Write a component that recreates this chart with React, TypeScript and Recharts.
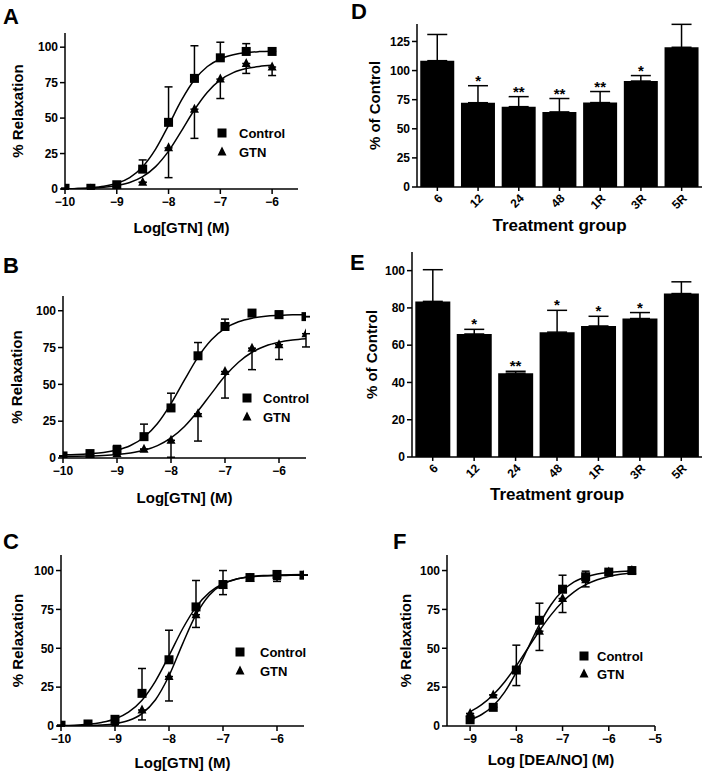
import React from 'react';
import {
  ComposedChart,
  Line,
  Scatter,
  Bar,
  XAxis,
  YAxis,
  ErrorBar,
  LabelList,
} from 'recharts';

const FONT = '"Liberation Sans", Arial, Helvetica, sans-serif';

// ---------- Panel A : GTN responses ----------
const aDose = [-10, -9.5, -9, -8.5, -8, -7.5, -7, -6.5, -6];
const aControl = [0.5, 0.5, 3, 14, 47, 78, 92.5, 97, 97];
const aControlSem = [0, 0, 0, 6.5, 25, 23, 11, 5.5, 0];
const aGtn = [0, 0, 1, 4.7, 29, 56.3, 77.5, 88.5, 86];
const aGtnSem = [0, 0, 0, 0, 21, 20.6, 13.7, 7, 6];
const aFitX = [-10, -9.75, -9.5, -9.25, -9, -8.75, -8.5, -8.25, -8, -7.75, -7.5, -7.25, -7, -6.75, -6.5, -6.25, -6];
const aControlFit = [0.2, 0.4, 0.9, 1.9, 4.0, 8.1, 15.7, 28.1, 44.9, 62.6, 77.0, 86.4, 91.7, 94.6, 96.2, 96.9, 97.2];
const aGtnFit = [0.15, 0.3, 0.6, 1.2, 2.4, 4.6, 8.7, 15.8, 26.7, 41.0, 55.9, 68.3, 76.9, 82.1, 84.9, 86.4, 87.2];

// ---------- Panel B ----------
const bDose = [-10, -9.5, -9, -8.5, -8, -7.5, -7, -6.5, -6, -5.5];
const bControl = [1.4, 3, 5.5, 14.5, 34, 69.4, 89.3, 98.4, 97.3, 96];
const bControlSem = [0, 0, 3, 8.5, 10, 9, 5, 0, 2.5, 0];
const bGtn = [1, 2, 3, 6, 12, 30, 58.7, 74.6, 76.9, 84.4];
const bGtnSem = [0, 0, 0, 0, 11.5, 18.5, 18, 14.6, 10, 9];
const bcFitX = [-10, -9.75, -9.5, -9.25, -9, -8.75, -8.5, -8.25, -8, -7.75, -7.5, -7.25, -7, -6.75, -6.5, -6.25, -6, -5.75, -5.5];
const bControlFit = [2.2, 2.4, 2.9, 3.7, 5.4, 8.5, 14.1, 23.4, 36.9, 53.0, 68.5, 80.3, 88.0, 92.5, 94.9, 96.2, 96.8, 97.2, 97.3];
const bGtnFit = [1.1, 1.2, 1.4, 1.7, 2.3, 3.4, 5.2, 8.4, 13.6, 21.4, 31.9, 43.9, 55.6, 65.0, 71.8, 76.1, 78.6, 80.1, 81.0];

// ---------- Panel C ----------
const cDose = [-10, -9.5, -9, -8.5, -8, -7.5, -7, -6.5, -6, -5.5];
const cControl = [0.5, 1.3, 4.3, 21, 42.6, 76.6, 91, 95.5, 97.5, 97];
const cControlSem = [0, 0, 0, 16, 19, 17, 9, 0, 1.5, 0];
const cGtn = [0, 0.5, 1, 10.3, 31.8, 71.6, 90.5, 95, 96, 97];
const cGtnSem = [0, 0, 0, 6.4, 15.7, 8.2, 6, 0, 3, 0];
const cControlFit = [0.3, 0.5, 1.1, 2.3, 4.5, 8.9, 16.6, 28.9, 45.2, 62.4, 76.5, 86.0, 91.5, 94.5, 96.0, 96.8, 97.1, 97.3, 97.4];
const cGtnFit = [0.05, 0.1, 0.3, 0.6, 1.5, 3.5, 8.0, 16.9, 32.3, 52.7, 71.6, 84.3, 91.3, 94.5, 95.9, 96.5, 96.8, 96.9, 97.0];

// ---------- Panel F : DEA/NO ----------
const fDose = [-9, -8.5, -8, -7.5, -7, -6.5, -6, -5.5];
const fControl = [4, 12, 36, 68, 88, 96, 99, 100];
const fControlSem = [0, 0, 16, 11, 9, 3.6, 1, 0];
const fGtn = [8, 20, 37, 61, 82, 94, 99, 100];
const fGtnSem = [0, 0, 11, 12.4, 9, 4.5, 0, 0];
const fFitX = [-9, -8.75, -8.5, -8.25, -8, -7.75, -7.5, -7.25, -7, -6.75, -6.5, -6.25, -6, -5.75, -5.5];
const fControlFit = [4.0, 7.4, 13.0, 22.0, 34.7, 50.0, 65.3, 78.0, 87.0, 92.7, 95.9, 97.8, 98.8, 99.4, 99.7];
const fGtnFit = [9.1, 13.7, 20.1, 28.5, 38.7, 50.0, 61.3, 71.5, 79.9, 86.3, 90.9, 94.1, 96.2, 97.6, 98.4];

// ---------- Panels D & E : bar charts ----------
const groups = ['6', '12', '24', '48', '1R', '3R', '5R'];
const dMean = [108.5, 72.4, 69, 64.5, 72.5, 91, 120];
const dSem = [22.5, 14.6, 8.6, 11.5, 9.5, 4.7, 19.7];
const dSig = ['', '*', '**', '**', '**', '*', ''];
const eMean = [83.5, 66, 45, 67, 70.3, 74.3, 87.7];
const eSem = [17, 2.5, 1, 11.7, 5.2, 3.2, 6.3];
const eSig = ['', '*', '**', '*', '*', '*', ''];

const toPoints = (xs: number[], ys: number[], sem: number[], up: boolean) =>
  xs.map((x, i) => ({ x, y: ys[i], err: up ? [0, sem[i]] : [sem[i], 0] }));
const toCurve = (xs: number[], ys: number[]) => xs.map((x, i) => ({ x, y: ys[i] }));
const minus = (v: number) => (v < 0 ? `\u2212${Math.abs(v)}` : `${v}`);

const tickStyle = { fill: '#000', fontSize: 12, fontWeight: 700, fontFamily: FONT };
const titleStyle = { fill: '#000', fontSize: 15, fontWeight: 700, fontFamily: FONT };

const SquareDot = (props: any) => {
  const { cx, cy } = props;
  return <rect x={cx - 4.5} y={cy - 4.5} width={9} height={9} fill="#000" />;
};
const TriangleDot = (props: any) => {
  const { cx, cy } = props;
  return <polygon points={`${cx},${cy - 5.5} ${cx + 4.5},${cy + 3.5} ${cx - 4.5},${cy + 3.5}`} fill="#000" />;
};

interface Rect { left: number; top: number; right: number; bottom: number }

const YW = 60;
const MT = 10;
const MR = 7;
const XH = 50;

interface CurvePanelProps {
  plot: Rect;
  xDomain: [number, number];
  xTicks: number[];
  xLabel: string;
  xLabelOffset: number;
  yLabelOffset: number;
  control: any[];
  gtn: any[];
  controlFit: any[];
  gtnFit: any[];
}

const CurvePanel: React.FC<CurvePanelProps> = ({
  plot, xDomain, xTicks, xLabel, xLabelOffset, yLabelOffset, control, gtn, controlFit, gtnFit,
}) => {
  const width = plot.right - plot.left + YW + MR;
  const height = plot.bottom - plot.top + MT + XH;
  return (
    <div style={{ position: 'absolute', left: plot.left - YW, top: plot.top - MT }}>
      <ComposedChart width={width} height={height} margin={{ top: MT, right: MR, left: 0, bottom: 0 }}>
        <XAxis
          type="number"
          dataKey="x"
          domain={xDomain}
          ticks={xTicks}
          allowDataOverflow
          height={XH}
          tickFormatter={minus}
          tick={tickStyle}
          tickSize={5}
          tickMargin={3}
          axisLine={{ stroke: '#000', strokeWidth: 1.5 }}
          tickLine={{ stroke: '#000', strokeWidth: 1.5 }}
          label={{ value: xLabel, position: 'insideBottom', offset: xLabelOffset, style: titleStyle }}
        />
        <YAxis
          type="number"
          dataKey="y"
          domain={[0, 110]}
          ticks={[0, 25, 50, 75, 100]}
          allowDataOverflow
          width={YW}
          tick={tickStyle}
          tickSize={5}
          tickMargin={2}
          axisLine={{ stroke: '#000', strokeWidth: 1.5 }}
          tickLine={{ stroke: '#000', strokeWidth: 1.5 }}
          label={{
            value: '% Relaxation',
            angle: -90,
            position: 'insideLeft',
            offset: yLabelOffset,
            style: { ...titleStyle, textAnchor: 'middle' },
          }}
        />
        <Line data={controlFit} dataKey="y" type="monotone" stroke="#000" strokeWidth={1.5} dot={false} activeDot={false} isAnimationActive={false} />
        <Line data={gtnFit} dataKey="y" type="monotone" stroke="#000" strokeWidth={1.5} dot={false} activeDot={false} isAnimationActive={false} />
        <Scatter data={control} shape={SquareDot} isAnimationActive={false}>
          <ErrorBar dataKey="err" direction="y" width={4} stroke="#000" strokeWidth={1.5} />
        </Scatter>
        <Scatter data={gtn} shape={TriangleDot} isAnimationActive={false}>
          <ErrorBar dataKey="err" direction="y" width={4} stroke="#000" strokeWidth={1.5} />
        </Scatter>
      </ComposedChart>
    </div>
  );
};

interface BarPanelProps {
  plot: Rect;
  means: number[];
  sems: number[];
  sigs: string[];
  yDomain: [number, number];
  yTicks: number[];
  xLabelOffset: number;
  yLabelOffset: number;
}

const BarPanel: React.FC<BarPanelProps> = ({ plot, means, sems, sigs, yDomain, yTicks, xLabelOffset, yLabelOffset }) => {
  const width = plot.right - plot.left + YW + MR;
  const height = plot.bottom - plot.top + MT + XH;
  const data = groups.map((g, i) => ({
    name: g,
    value: means[i],
    err: [0, sems[i]],
    top: means[i] + sems[i],
    sig: sigs[i],
  }));
  return (
    <div style={{ position: 'absolute', left: plot.left - YW, top: plot.top - MT }}>
      <ComposedChart
        width={width}
        height={height}
        data={data}
        barCategoryGap="8%"
        margin={{ top: MT, right: MR, left: 0, bottom: 0 }}
      >
        <XAxis
          dataKey="name"
          type="category"
          interval={0}
          height={XH}
          angle={-45}
          textAnchor="end"
          tick={tickStyle}
          tickSize={4}
          tickMargin={2}
          axisLine={{ stroke: '#000', strokeWidth: 1.5 }}
          tickLine={{ stroke: '#000', strokeWidth: 1.5 }}
          label={{ value: 'Treatment group', position: 'insideBottom', offset: xLabelOffset, style: { ...titleStyle, fontSize: 17 } }}
        />
        <YAxis
          type="number"
          domain={yDomain}
          ticks={yTicks}
          allowDataOverflow
          width={YW}
          tick={tickStyle}
          tickSize={5}
          tickMargin={2}
          axisLine={{ stroke: '#000', strokeWidth: 1.5 }}
          tickLine={{ stroke: '#000', strokeWidth: 1.5 }}
          label={{
            value: '% of Control',
            angle: -90,
            position: 'insideLeft',
            offset: yLabelOffset,
            style: { ...titleStyle, textAnchor: 'middle' },
          }}
        />
        <Bar dataKey="value" fill="#000" isAnimationActive={false}>
          <ErrorBar dataKey="err" direction="y" width={10} stroke="#000" strokeWidth={1.5} />
        </Bar>
        <Line dataKey="top" stroke="none" dot={false} activeDot={false} isAnimationActive={false}>
          <LabelList dataKey="sig" position="top" offset={0} style={{ fill: '#000', fontSize: 15, fontWeight: 700, fontFamily: FONT }} />
        </Line>
      </ComposedChart>
    </div>
  );
};

const CurveLegend = ({ markerX, textX, rowY }: { markerX: number; textX: number; rowY: [number, number] }) => (
  <g>
    <rect x={markerX - 4.5} y={rowY[0] - 4.5} width={9} height={9} fill="#000" />
    <text x={textX} y={rowY[0]} dominantBaseline="central" style={{ fontSize: 13, fontWeight: 700, fontFamily: FONT }}>Control</text>
    <polygon points={`${markerX},${rowY[1] - 5.5} ${markerX + 4.5},${rowY[1] + 3.5} ${markerX - 4.5},${rowY[1] + 3.5}`} fill="#000" />
    <text x={textX} y={rowY[1]} dominantBaseline="central" style={{ fontSize: 13, fontWeight: 700, fontFamily: FONT }}>GTN</text>
  </g>
);

const letterStyle = { fontSize: 22, fontWeight: 700, fontFamily: FONT };

export default function App() {
  return (
    <div style={{ position: 'absolute', left: 0, top: 0, width: 709, height: 776, background: '#fff', fontFamily: FONT }}>
      <CurvePanel
        plot={{ left: 65, top: 33, right: 298, bottom: 189 }}
        xDomain={[-10, -5.5]}
        xTicks={[-10, -9, -8, -7, -6]}
        xLabel="Log[GTN] (M)"
        xLabelOffset={6}
        yLabelOffset={13}
        control={toPoints(aDose, aControl, aControlSem, true)}
        gtn={toPoints(aDose, aGtn, aGtnSem, false)}
        controlFit={toCurve(aFitX, aControlFit)}
        gtnFit={toCurve(aFitX, aGtnFit)}
      />
      <CurvePanel
        plot={{ left: 63, top: 296, right: 306, bottom: 458 }}
        xDomain={[-10, -5.5]}
        xTicks={[-10, -9, -8, -7, -6]}
        xLabel="Log[GTN] (M)"
        xLabelOffset={5}
        yLabelOffset={14}
        control={toPoints(bDose, bControl, bControlSem, true)}
        gtn={toPoints(bDose, bGtn, bGtnSem, false)}
        controlFit={toCurve(bcFitX, bControlFit)}
        gtnFit={toCurve(bcFitX, bGtnFit)}
      />
      <CurvePanel
        plot={{ left: 61, top: 555, right: 304, bottom: 726 }}
        xDomain={[-10, -5.5]}
        xTicks={[-10, -9, -8, -7, -6]}
        xLabel="Log[GTN] (M)"
        xLabelOffset={8}
        yLabelOffset={17}
        control={toPoints(cDose, cControl, cControlSem, true)}
        gtn={toPoints(cDose, cGtn, cGtnSem, false)}
        controlFit={toCurve(bcFitX, cControlFit)}
        gtnFit={toCurve(bcFitX, cGtnFit)}
      />
      <CurvePanel
        plot={{ left: 447, top: 555, right: 655, bottom: 726 }}
        xDomain={[-9.5, -5]}
        xTicks={[-9, -8, -7, -6, -5]}
        xLabel="Log [DEA/NO] (M)"
        xLabelOffset={11}
        yLabelOffset={19}
        control={toPoints(fDose, fControl, fControlSem, true)}
        gtn={toPoints(fDose, fGtn, fGtnSem, false)}
        controlFit={toCurve(fFitX, fControlFit)}
        gtnFit={toCurve(fFitX, fGtnFit)}
      />
      <BarPanel
        plot={{ left: 417, top: 24, right: 702, bottom: 187 }}
        means={dMean}
        sems={dSem}
        sigs={dSig}
        yDomain={[0, 140]}
        yTicks={[0, 25, 50, 75, 100, 125]}
        xLabelOffset={6}
        yLabelOffset={18}
      />
      <BarPanel
        plot={{ left: 412, top: 252, right: 702, bottom: 457 }}
        means={eMean}
        sems={eSem}
        sigs={eSig}
        yDomain={[0, 110]}
        yTicks={[0, 20, 40, 60, 80, 100]}
        xLabelOffset={7}
        yLabelOffset={20}
      />
      <svg width={709} height={776} style={{ position: 'absolute', left: 0, top: 0, pointerEvents: 'none' }}>
        <text x={3} y={24} style={letterStyle}>A</text>
        <text x={3} y={273} style={letterStyle}>B</text>
        <text x={3} y={549} style={letterStyle}>C</text>
        <text x={351} y={19} style={letterStyle}>D</text>
        <text x={350} y={270} style={letterStyle}>E</text>
        <text x={393} y={549} style={letterStyle}>F</text>
        <CurveLegend markerX={222} textX={239} rowY={[133, 152]} />
        <CurveLegend markerX={247} textX={263} rowY={[398, 417]} />
        <CurveLegend markerX={240} textX={260} rowY={[652, 671]} />
        <CurveLegend markerX={584} textX={597} rowY={[656, 674]} />
      </svg>
    </div>
  );
}
